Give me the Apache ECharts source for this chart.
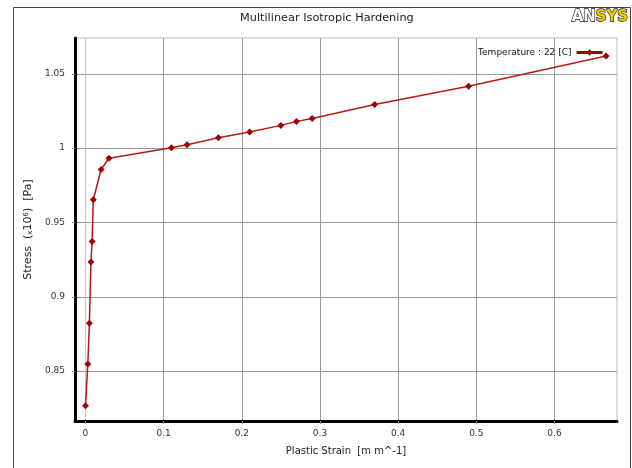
<!DOCTYPE html>
<html><head><meta charset="utf-8">
<script src="https://cdn.jsdelivr.net/npm/echarts@6/dist/echarts.min.js"></script>
<style>html,body{margin:0;padding:0;background:#fff}#c{width:632px;height:468px}</style>
</head><body><div id="c"></div>
<script>
const strain = [0, 0.003, 0.005, 0.007, 0.0085, 0.01, 0.02, 0.03, 0.11, 0.13, 0.17, 0.21, 0.25, 0.27, 0.29, 0.37, 0.49, 0.666];
const stress = [0.8266, 0.8547, 0.8822, 0.9234, 0.9372, 0.9653, 0.9856, 0.9932, 1.0003, 1.0023, 1.007, 1.0108, 1.0153, 1.018, 1.020, 1.0293, 1.0417, 1.062];
const xTicks = [0, 0.1, 0.2, 0.3, 0.4, 0.5, 0.6];
const yTicks = [0.85, 0.9, 0.95, 1, 1.05];
const seriesName = 'Temperature : 22 [C]';

const chart = echarts.init(document.getElementById('c'));
const font = 'DejaVu Sans';
chart.setOption({
  animation: false,
  title: { text: 'Multilinear Isotropic Hardening', left: 235, top: 8,
    textStyle: { fontFamily: font, fontSize: 11.3, fontWeight: 'normal', color: '#222' } },
  graphic: [
    { type: 'rect', shape: { x: 13.5, y: 7.5, width: 617, height: 480 }, style: { fill: 'none', stroke: '#444', lineWidth: 1 }, silent: true },
    { type: 'text', left: 571, top: 9, style: { text: 'AN', font: 'bold 15px "DejaVu Sans"', fill: '#fff', stroke: '#222', lineWidth: 1.3 } },
    { type: 'text', left: 595, top: 9, style: { text: 'SYS', font: 'bold 15px "DejaVu Sans"', fill: '#f0c800', stroke: '#222', lineWidth: 1.3 } }
  ],
  legend: { right: 23, top: 43, align: 'right', itemWidth: 26, itemHeight: 8, itemGap: 10,
    lineStyle: { width: 3, color: '#a00000' },
    textStyle: { fontFamily: font, fontSize: 9, color: '#111' }, data: [seriesName] },
  grid: { left: 75, right: 15, top: 38, bottom: 47, show: true, borderColor: '#bbb', borderWidth: 1 },
  xAxis: {
    type: 'value', min: -0.0134, max: 0.68,
    name: 'Plastic Strain  [m m^-1]', nameLocation: 'middle', nameGap: 25,
    nameTextStyle: { fontFamily: font, fontSize: 10, color: '#222' },
    axisLine: { show: true, onZero: false, lineStyle: { color: '#000', width: 3 } },
    axisTick: { show: true, length: 3, customValues: xTicks, lineStyle: { color: '#888' } },
    axisLabel: { customValues: xTicks, fontFamily: font, fontSize: 9, color: '#333', margin: 8,
      formatter: v => String(+v.toFixed(2)) },
    splitLine: { show: true, lineStyle: { color: ['#c4c4c4', '#999', '#999', '#999', '#999', '#999', '#999'], width: 1 } }
  },
  yAxis: {
    type: 'value', min: 0.8164, max: 1.0741,
    name: '{t|Stress  (}{s|x}{t|10}{u|6}{t|)  [Pa]}', nameLocation: 'middle', nameGap: 39, nameRotate: 90,
    nameTextStyle: { fontFamily: font, fontSize: 11, color: '#222',
      rich: { t: { fontFamily: font, fontSize: 11, color: '#222' },
              s: { fontFamily: font, fontSize: 7, color: '#222', verticalAlign: 'bottom', padding: [3, 0, 0, 0] },
              u: { fontFamily: font, fontSize: 7, color: '#222', verticalAlign: 'top', padding: [0, 0, 4, 0] } } },
    axisLine: { show: true, onZero: false, lineStyle: { color: '#000', width: 3 } },
    axisTick: { show: true, length: 3, customValues: yTicks, lineStyle: { color: '#888' } },
    axisLabel: { customValues: yTicks, fontFamily: font, fontSize: 9, color: '#333', margin: 10,
      formatter: v => String(+v.toFixed(2)) },
    splitLine: { show: true, lineStyle: { color: '#999', width: 1 } }
  },
  series: [{
    name: seriesName, type: 'line',
    data: strain.map((x, i) => [x, stress[i]]),
    symbol: 'diamond', symbolSize: 7, showSymbol: true,
    lineStyle: { color: '#b51a1a', width: 1.5 },
    itemStyle: { color: '#a00000' },
    clip: false
  }]
});
</script></body></html>
